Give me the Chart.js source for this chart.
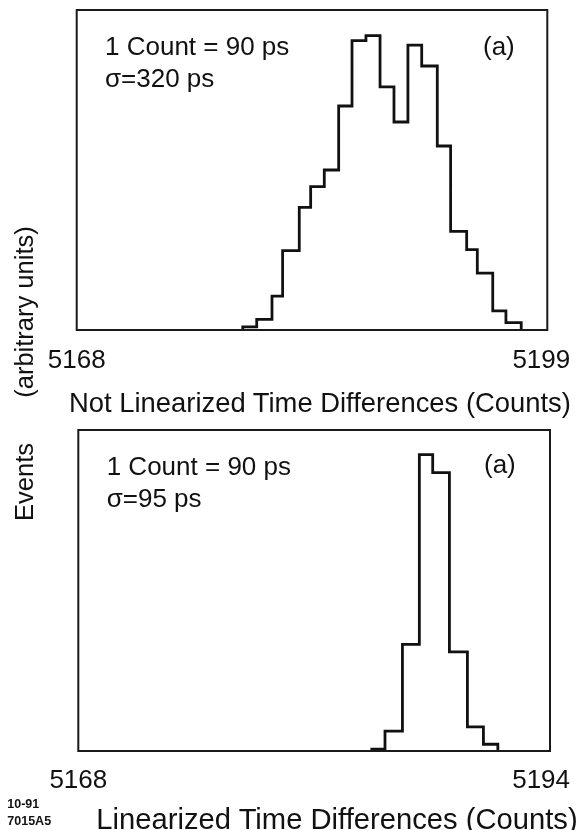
<!DOCTYPE html>
<html>
<head>
<meta charset="utf-8">
<script src="https://cdn.jsdelivr.net/npm/chart.js@4.4.0/dist/chart.umd.min.js"></script>
<style>
  html, body { margin: 0; padding: 0; background: #fff; overflow: hidden; }
  body { width: 581px; height: 830px; position: relative; font-family: "Liberation Sans", Arial, sans-serif; color: #111; }
  canvas { position: absolute; left: 0; }
  .t { position: absolute; white-space: nowrap; line-height: 1; }
  .ann { font-size: 26px; }
  .rot { transform: translate(-50%, -50%) rotate(-90deg); font-size: 25.5px; }
  .ctr { transform: translateX(-50%); }
  .small { font-size: 12.5px; font-weight: bold; }
</style>
</head>
<body>
<canvas id="top" width="581" height="420" style="top:0px"></canvas>
<canvas id="bot" width="581" height="410" style="top:420px"></canvas>

<div class="t ann" style="left:105px; top:33px">1 Count = 90 ps</div>
<div class="t ann" style="left:105px; top:65.3px">σ=320 ps</div>
<div class="t ann" style="left:483px; top:33px">(a)</div>

<div class="t ann" style="left:106.7px; top:453px">1 Count = 90 ps</div>
<div class="t ann" style="left:106.7px; top:485.3px">σ=95 ps</div>
<div class="t ann" style="left:484px; top:450.5px">(a)</div>

<div class="t ctr" style="left:320px; top:388.5px; font-size:27.4px">Not Linearized Time Differences (Counts)</div>
<div class="t ctr" style="left:337px; top:805.3px; font-size:29.2px">Linearized Time Differences (Counts)</div>

<div class="t rot" style="left:24.7px; top:311.7px">(arbitrary units)</div>
<div class="t rot" style="left:24.7px; top:482px">Events</div>

<div class="t small" style="left:7.3px; top:797.7px">10-91</div>
<div class="t small" style="left:7.3px; top:815.4px">7015A5</div>

<script>
// ---- data ----
// Top panel: not linearized time differences (bin edges in counts, heights in arbitrary units)
const topEdges  = [5179.08, 5180.01, 5181.03, 5181.74, 5182.85, 5183.61, 5184.52, 5185.48, 5186.37, 5187.30,
                   5188.24, 5189.17, 5190.10, 5191.02, 5192.06, 5192.95, 5194.02, 5194.73, 5195.76, 5196.64, 5197.66];
const topValues = [1.0, 3.3, 10.6, 24.8, 38.3, 44.8, 50.0, 70.0, 90.4, 92.0,
                   76.0, 65.0, 89.0, 82.5, 57.5, 30.8, 25.1, 17.8, 6.0, 2.3];
const topTicks  = [5168, 5199];
const topRange  = [5168, 5199.4];

// Bottom panel: linearized time differences
const botEdges  = [5184.49, 5185.23, 5186.21, 5187.16, 5187.91, 5188.85, 5189.86, 5190.76, 5191.57];
const botValues = [0.6, 6.2, 33.2, 92.3, 86.7, 30.9, 7.5, 2.1];
const botTicks  = [5168, 5194];
const botRange  = [5168, 5194.5];

const yRange = [0, 100];

// ---- helpers ----
function histPoints(edges, values) {
  const pts = [{x: edges[0], y: 0}];
  values.forEach((v, i) => pts.push({x: edges[i], y: v}));
  pts.push({x: edges[edges.length - 1], y: 0});
  return pts;
}

const boxPlugin = {
  id: 'box',
  afterDraw(chart) {
    const {ctx, chartArea: a} = chart;
    ctx.save();
    ctx.lineWidth = 2;
    ctx.strokeStyle = '#1a1a1a';
    ctx.strokeRect(a.left, a.top, a.right - a.left, a.bottom - a.top);
    ctx.restore();
  }
};

function makeChart(id, edges, values, ticks, range, pad, scaleHeight, tickLen) {
  return new Chart(document.getElementById(id), {
    type: 'line',
    data: {
      datasets: [{
        data: histPoints(edges, values),
        stepped: true,
        borderColor: '#111',
        borderWidth: 2.8,
        pointRadius: 0,
        fill: false,
        tension: 0,
        borderJoinStyle: 'miter'
      }]
    },
    options: {
      responsive: false,
      animation: false,
      devicePixelRatio: 1,
      layout: { padding: pad },
      plugins: { legend: { display: false }, tooltip: { enabled: false } },
      scales: {
        x: {
          type: 'linear',
          min: range[0],
          max: range[1],
          grid: { display: true, drawOnChartArea: false, drawTicks: true, tickLength: tickLen, tickColor: 'rgba(0,0,0,0)' },
          border: { display: false },
          ticks: {
            padding: 0.4,
            autoSkip: false,
            maxRotation: 0,
            minRotation: 0,
            color: '#111',
            font: { family: '"Liberation Sans", Arial, sans-serif', size: 26 },
            callback: (v) => String(v)
          },
          afterBuildTicks: (s) => { s.ticks = ticks.map(v => ({value: v})); },
          afterFit: (s) => { s.height = scaleHeight; }
        },
        y: { display: false, min: yRange[0], max: yRange[1] }
      }
    },
    plugins: [boxPlugin]
  });
}

makeChart('top', topEdges, topValues, topTicks, topRange,
  { left: 76.7, right: 33.7, top: 10, bottom: 0 }, 90, 15);
makeChart('bot', botEdges, botValues, botTicks, botRange,
  { left: 78.3, right: 31, top: 10, bottom: 0 }, 79, 13.5);
</script>
</body>
</html>
